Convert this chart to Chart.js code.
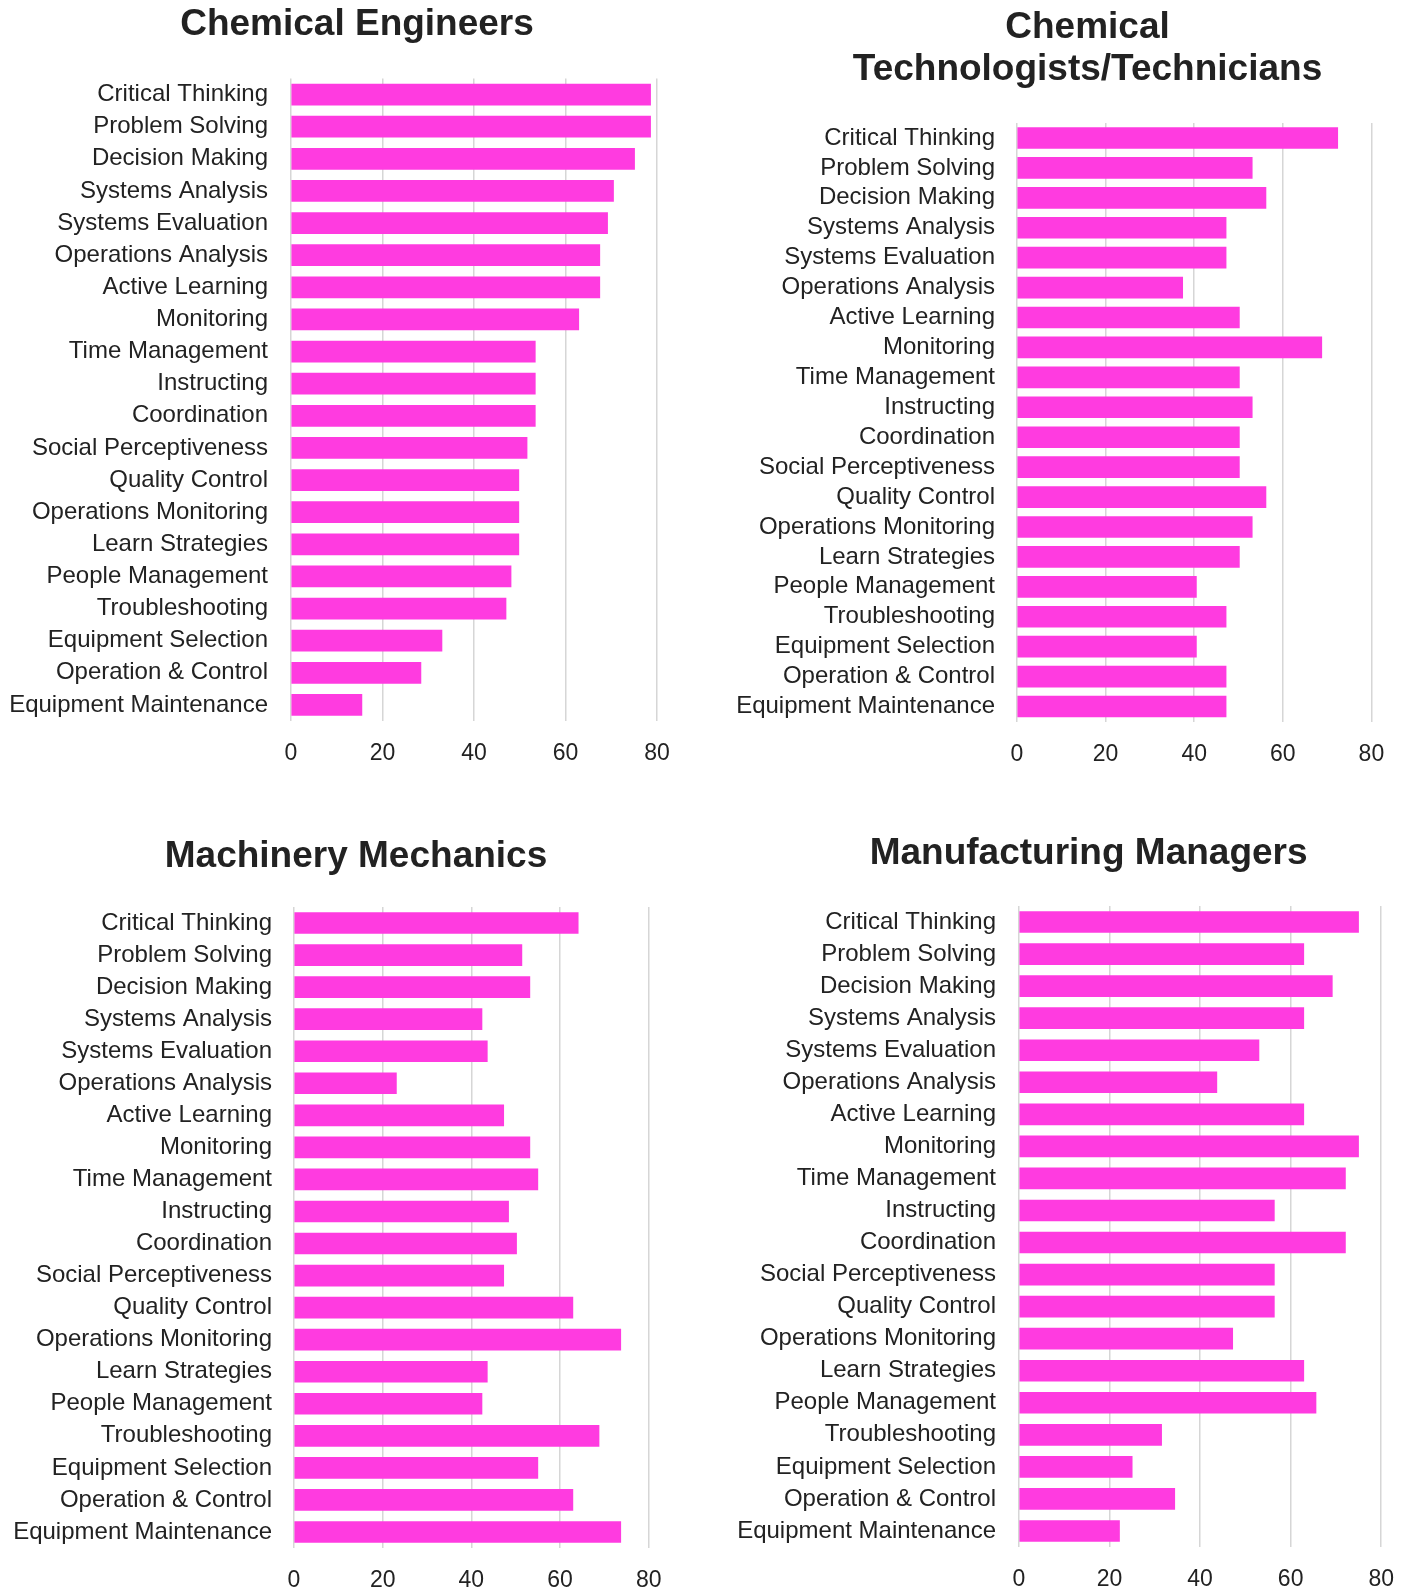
<!DOCTYPE html>
<html>
<head>
<meta charset="utf-8">
<title>Skills by occupation</title>
<script src="https://cdn.jsdelivr.net/npm/chart.js@4.4.1/dist/chart.umd.min.js"></script>
<style>
  html, body { margin: 0; padding: 0; background: #fff; overflow: hidden; }
  canvas { position: absolute; }
</style>
</head>
<body>
<canvas id="c1" width="706" height="800" style="left:0;top:0"></canvas>
<canvas id="c2" width="699" height="800" style="left:714px;top:0"></canvas>
<canvas id="c3" width="706" height="800" style="left:0;top:800px"></canvas>
<canvas id="c4" width="699" height="800" style="left:714px;top:800px"></canvas>
<script>
  const skills = ['Critical Thinking', 'Problem Solving', 'Decision Making', 'Systems Analysis',
    'Systems Evaluation', 'Operations Analysis', 'Active Learning', 'Monitoring', 'Time Management',
    'Instructing', 'Coordination', 'Social Perceptiveness', 'Quality Control', 'Operations Monitoring',
    'Learn Strategies', 'People Management', 'Troubleshooting', 'Equipment Selection',
    'Operation & Control', 'Equipment Maintenance'];

  const engineers = [78.6, 78.6, 75.1, 70.5, 69.2, 67.5, 67.5, 62.9, 53.4, 53.4,
    53.4, 51.6, 49.8, 49.8, 49.8, 48.1, 47.0, 33.0, 28.4, 15.5];
  const technicians = [72.4, 53.1, 56.2, 47.2, 47.2, 37.4, 50.2, 68.8, 50.2, 53.1,
    50.2, 50.2, 56.2, 53.1, 50.2, 40.5, 47.2, 40.5, 47.2, 47.2];
  const mechanics = [64.1, 51.4, 53.2, 42.4, 43.6, 23.1, 47.3, 53.2, 55.0, 48.4,
    50.2, 47.3, 62.9, 73.7, 43.6, 42.4, 68.8, 55.0, 62.9, 73.7];
  const managers = [75.0, 62.9, 69.2, 62.9, 53.0, 43.7, 62.9, 75.0, 72.1, 56.4,
    72.1, 56.4, 56.4, 47.2, 62.9, 65.6, 31.5, 25.0, 34.4, 22.2];

  const xTicks = [0, 20, 40, 60, 80];

  const fontFamily = '"Helvetica Neue", Helvetica, Arial, "Liberation Sans", sans-serif';
  const textColor = '#222';
  const barColor = '#ff3be0';

  // draws the panel heading at a fixed spot, the built-in title always centres over the whole box
  const panelTitle = {
    id: 'panelTitle',
    afterDraw(chart, args, opts) {
      const ctx = chart.ctx;
      ctx.save();
      ctx.font = 'bold 37px ' + fontFamily;
      ctx.fillStyle = textColor;
      ctx.textAlign = 'center';
      ctx.textBaseline = 'middle';
      opts.lines.forEach((line, i) => ctx.fillText(line, opts.x, opts.y + i * 42));
      ctx.restore();
    }
  };

  function makeChart(id, titleLines, values, box) {
    return new Chart(id, {
      type: 'bar',
      data: {
        labels: skills,
        datasets: [{
          data: values,
          backgroundColor: barColor,
          barThickness: 21
        }]
      },
      options: {
        indexAxis: 'y',
        responsive: false,
        animation: false,
        layout: {
          padding: { top: box.top, right: box.right, bottom: box.bottom, left: 0 }
        },
        plugins: {
          legend: { display: false },
          tooltip: { enabled: false },
          panelTitle: { lines: titleLines, x: box.titleX, y: box.titleY }
        },
        scales: {
          x: {
            min: xTicks[0],
            max: xTicks[xTicks.length - 1],
            ticks: {
              stepSize: xTicks[1] - xTicks[0],
              padding: 19,
              color: textColor,
              font: { size: 23, family: fontFamily }
            },
            grid: { color: '#d6d6d6', lineWidth: 1.5, drawTicks: false },
            border: { display: false },
            afterFit(scale) { scale.height = 47; }
          },
          y: {
            ticks: {
              autoSkip: false,
              padding: box.labelPad,
              color: textColor,
              font: { size: 24, family: fontFamily }
            },
            grid: { display: false, drawTicks: false },
            border: { display: false },
            afterFit(scale) { scale.width = box.axisW; }
          }
        }
      },
      plugins: [panelTitle]
    });
  }

  makeChart('c1', ['Chemical Engineers'], engineers,
    { top: 78.5, bottom: 32, right: 49, axisW: 291, labelPad: 23, titleX: 357, titleY: 25 });
  makeChart('c2', ['Chemical', 'Technologists/Technicians'], technicians,
    { top: 123, bottom: 31.5, right: 41.6, axisW: 303, labelPad: 22, titleX: 373.5, titleY: 27.5 });
  makeChart('c3', ['Machinery Mechanics'], mechanics,
    { top: 107, bottom: 5, right: 57.3, axisW: 294, labelPad: 22, titleX: 356, titleY: 57 });
  makeChart('c4', ['Manufacturing Managers'], managers,
    { top: 106, bottom: 6, right: 28.5, axisW: 305, labelPad: 23, titleX: 374.6, titleY: 54 });
</script>
</body>
</html>
